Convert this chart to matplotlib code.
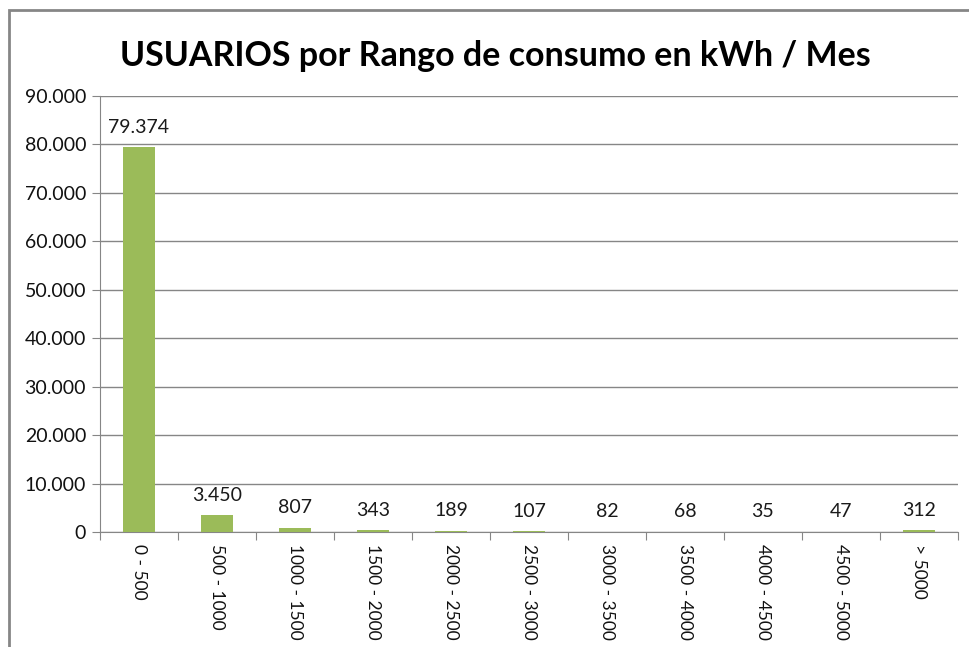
import matplotlib
matplotlib.use('Agg')
import matplotlib.pyplot as plt
from matplotlib.patches import Rectangle
from matplotlib.ticker import FuncFormatter

plt.rcParams['font.family'] = ['Lato', 'DejaVu Sans']

rangos = ['0 - 500', '500 - 1000', '1000 - 1500', '1500 - 2000', '2000 - 2500',
          '2500 - 3000', '3000 - 3500', '3500 - 4000', '4000 - 4500',
          '4500 - 5000', '> 5000']
usuarios = [79374, 3450, 807, 343, 189, 107, 82, 68, 35, 47, 312]


def miles(v):
    # formato con punto como separador de miles
    return f'{int(v):,}'.replace(',', '.')


fig = plt.figure(figsize=(9.7, 6.47), dpi=100)
ax = fig.add_axes([100 / 970, 1 - 532 / 647, 858 / 970, 436 / 647])

x = range(len(rangos))
ax.bar(x, usuarios, width=0.41, color='#9BBB59', zorder=3)
for i, v in zip(x, usuarios):
    ax.text(i, v + 2400, miles(v), ha='center', va='bottom', fontsize=14, color='#1a1a1a')

ax.set_xlim(-0.5, len(rangos) - 0.5)
ax.set_ylim(0, 90000)
ax.set_yticks(range(0, 90001, 10000))
ax.yaxis.set_major_formatter(FuncFormatter(lambda v, p: miles(v)))
ax.set_xticks([i + 0.5 for i in range(-1, len(rangos))], minor=False)
ax.set_xticklabels([])
ax.set_xticks(list(x), minor=True)
ax.set_xticklabels(rangos, minor=True, rotation=270, fontsize=12.5, color='#111111')
ax.tick_params(axis='x', which='minor', length=0, pad=9)
ax.tick_params(axis='x', which='major', length=6, color='#868686')
ax.tick_params(axis='y', length=6, color='#868686', labelsize=14, labelcolor='#111111', pad=4)
ax.grid(axis='y', color='#868686', linewidth=1, zorder=0)

for s in ['top', 'right']:
    ax.spines[s].set_visible(False)
ax.spines['left'].set_color('#868686')
ax.spines['bottom'].set_color('#868686')

fig.text(495 / 970, 1 - 56 / 647, 'USUARIOS por Rango de consumo en kWh / Mes',
         ha='center', va='center', fontsize=24.5, fontweight='bold')

# marco del gráfico
fig.patches.append(Rectangle((9 / 970, -0.1), 1.1, 1 - 10 / 647 + 0.1,
                             transform=fig.transFigure, fill=False,
                             edgecolor='#868686', linewidth=2))

fig.savefig('out.png', dpi=100)
